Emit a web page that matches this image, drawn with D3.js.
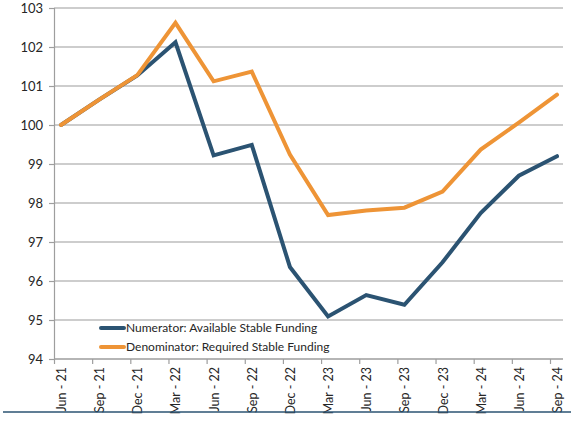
<!DOCTYPE html>
<html>
<head>
<meta charset="utf-8">
<script src="https://cdn.jsdelivr.net/npm/d3@7"></script>
<style>
  html, body { margin: 0; padding: 0; background: #fff; }
  svg { display: block; }
  text { font-family: Lato, "Open Sans", sans-serif; fill: #262626; }
</style>
</head>
<body>
<svg id="chart" width="582" height="421"></svg>
<script>
// Quarter labels along the x axis
const quarters = ["Jun - 21", "Sep - 21", "Dec - 21", "Mar - 22", "Jun - 22", "Sep - 22", "Dec - 22",
                  "Mar - 23", "Jun - 23", "Sep - 23", "Dec - 23", "Mar - 24", "Jun - 24", "Sep - 24"];
// Index values (Jun 2021 = 100)
const numerator   = [100, 100.65, 101.27, 102.12, 99.22, 99.49, 96.36, 95.09, 95.64, 95.39, 96.48, 97.74, 98.70, 99.20];
const denominator = [100, 100.65, 101.28, 102.62, 101.12, 101.37, 99.24, 97.69, 97.81, 97.88, 98.29, 99.37, 100.06, 100.78];
const yTicks = [94, 95, 96, 97, 98, 99, 100, 101, 102, 103];
const seriesNames = ["Numerator: Available Stable Funding", "Denominator: Required Stable Funding"];
const seriesColors = ["#2B5372", "#EE9436"];

const svg = d3.select("#chart");
const plot = { left: 54, right: 563, top: 8, bottom: 359 };

const y = d3.scaleLinear().domain([94, 103]).range([plot.bottom, plot.top]);
// Points sit slightly right of each quarter's tick mark
const x = d3.scalePoint().domain(quarters).range([61, 557]);
const tickOffset = -6.5;

// Horizontal gridlines
svg.append("g")
  .selectAll("line")
  .data(yTicks)
  .join("line")
  .attr("x1", plot.left).attr("x2", plot.right)
  .attr("y1", d => y(d)).attr("y2", d => y(d))
  .attr("stroke", "#BDBDBD").attr("stroke-width", 1.5);

// Y axis
const yAxis = svg.append("g")
  .attr("transform", `translate(${plot.left},0)`)
  .call(d3.axisLeft(y).tickValues(yTicks).tickSize(5).tickPadding(6).tickFormat(d3.format("d")));
yAxis.select(".domain").attr("stroke", "#9E9E9E").attr("stroke-width", 1.2);
yAxis.selectAll(".tick line").attr("stroke", "#9E9E9E").attr("stroke-width", 1.2);
yAxis.selectAll(".tick text").attr("font-size", 13).attr("fill", "#262626")
  .style("font-family", "Lato, 'Open Sans', sans-serif");

// X axis baseline and ticks
const xg = svg.append("g");
xg.append("line")
  .attr("x1", plot.left).attr("x2", plot.right)
  .attr("y1", plot.bottom).attr("y2", plot.bottom)
  .attr("stroke", "#9E9E9E").attr("stroke-width", 1.2);
xg.selectAll("line.tick")
  .data(quarters)
  .join("line")
  .attr("class", "tick")
  .attr("x1", d => x(d) + tickOffset).attr("x2", d => x(d) + tickOffset)
  .attr("y1", plot.bottom).attr("y2", plot.bottom + 5)
  .attr("stroke", "#9E9E9E").attr("stroke-width", 1.2);
xg.selectAll("text")
  .data(quarters)
  .join("text")
  .attr("transform", d => `translate(${x(d) + 5},${plot.bottom + 8}) rotate(-90)`)
  .attr("text-anchor", "end")
  .attr("font-size", 12.5)
  .text(d => d);

// Series lines
const line = d3.line().x((d, i) => x(quarters[i])).y(d => y(d));
[numerator, denominator].forEach((vals, k) => {
  svg.append("path")
    .datum(vals)
    .attr("d", line)
    .attr("fill", "none")
    .attr("stroke", seriesColors[k])
    .attr("stroke-width", 4)
    .attr("stroke-linejoin", "miter")
    .attr("stroke-linecap", "round");
});

// Legend
const legend = svg.append("g");
seriesNames.forEach((name, k) => {
  const ly = 328 + k * 19;
  legend.append("line")
    .attr("x1", 101).attr("x2", 124).attr("y1", ly).attr("y2", ly)
    .attr("stroke", seriesColors[k]).attr("stroke-width", 4).attr("stroke-linecap", "round");
  legend.append("text")
    .attr("x", 126).attr("y", ly).attr("dy", "0.35em")
    .attr("font-size", 12)
    .text(name);
});

// Rule beneath the chart
svg.append("line")
  .attr("x1", 3).attr("x2", 571).attr("y1", 412).attr("y2", 412)
  .attr("stroke", "#2B5372").attr("stroke-width", 1.5);
</script>
</body>
</html>
